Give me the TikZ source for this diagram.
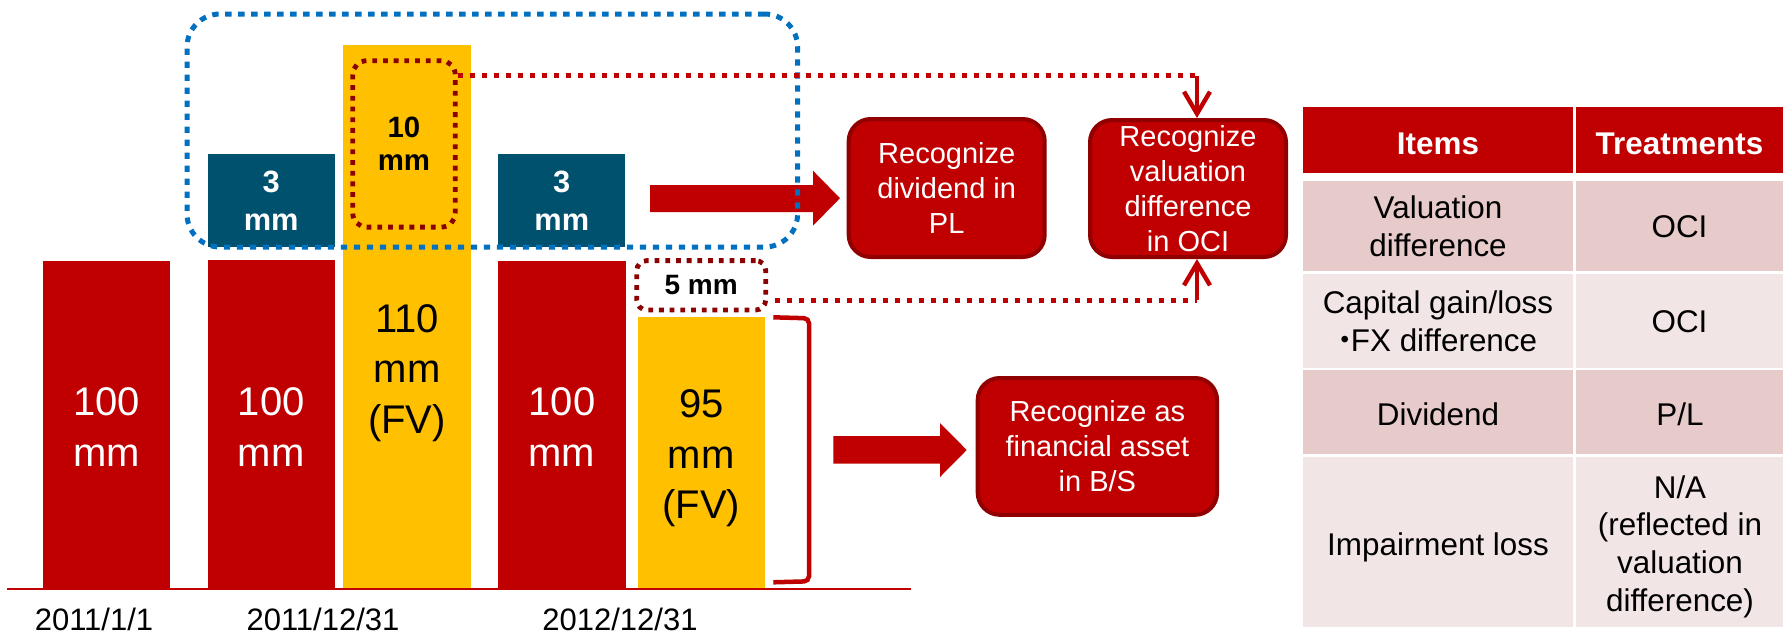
\documentclass[tikz,border=0pt]{standalone}
\usepackage{fontspec}
\setmainfont{Liberation Sans}
\newfontfamily\cjkfont{Noto Sans CJK JP}
\usetikzlibrary{arrows.meta}
\definecolor{barred}{RGB}{192,0,0}
\definecolor{darkred}{RGB}{139,0,0}
\definecolor{boxedge}{RGB}{144,0,0}
\definecolor{gold}{RGB}{255,192,0}
\definecolor{petrol}{RGB}{0,81,110}
\definecolor{hiblue}{RGB}{0,112,192}
\definecolor{rowa}{RGB}{231,202,202}
\definecolor{rowb}{RGB}{242,229,229}
\begin{document}
\begin{tikzpicture}[x=0.5pt,y=-0.5pt,
  bartext/.style={inner sep=0pt, align=center, font=\fontsize{20}{25.3}\selectfont},
  mmbox/.style={fill=petrol, text=white, inner sep=0pt, align=center,
    minimum width=63.6pt, minimum height=46.5pt,
    font=\bfseries\fontsize{15.4}{19.2}\selectfont},
  dotbox/.style={draw=darkred, line width=2.4pt, dash pattern=on 2.4pt off 2.95pt,
    inner sep=0pt, align=center},
  hibox/.style={draw=hiblue, line width=2.5pt, dash pattern=on 3.2pt off 3.3pt,
    rounded corners=16.5pt, inner sep=0pt},
  stepbox/.style={fill=barred, draw=boxedge, line width=2pt, rounded corners=11pt,
    text=white, inner sep=0pt, align=center,
    font=\fontsize{14.5}{17.5}\selectfont},
  link/.style={draw=barred, line width=2.5pt, dash pattern=on 2.5pt off 3.5pt},
  linkhead/.style={draw=barred, line width=2.2pt,
    -{Straight Barb[length=11pt,width=13pt]}},
  tabtxt/.style={inner sep=0pt, align=center, font=\fontsize{15.7}{18.8}\selectfont},
  datetxt/.style={inner sep=0pt, anchor=base, font=\fontsize{15.5}{18}\selectfont}]

\useasboundingbox (0,0) rectangle (1790,634);
\fill[white] (0,0) rectangle (1790,634);

% bars of the three dates
\fill[barred] (43,261) rectangle (170,589);
\fill[barred] (207.6,260) rectangle (334.7,589);
\fill[gold] (342.7,45) rectangle (471,589);
\fill[barred] (498,261) rectangle (625.7,589);
\fill[gold] (637.7,316.7) rectangle (765,589);

\node[bartext, text=white] (v1) at (106.5,427) {100\\mm};
\node[bartext, text=white] (v2) at (271.2,427) {100\\mm};
\node[bartext] (v3) at (407,373) {110\\mm\\(FV)};
\node[bartext, text=white] (v4) at (561.9,427) {100\\mm};
\node[bartext] (v5) at (701.3,458.3) {95\\mm\\(FV)};

% dividends
\node[mmbox] (d1) at (271.2,200.5) {3\\mm};
\node[mmbox] (d2) at (561.8,200.5) {3\\mm};

% valuation differences
\node[dotbox, rounded corners=7pt, minimum width=51.3pt, minimum height=83.2pt,
  font=\bfseries\fontsize{14.7}{16.7}\selectfont] (ten) at (404,143.9) {10\\mm};
\node[dotbox, rounded corners=5pt, minimum width=64.5pt, minimum height=24.7pt,
  font=\bfseries\fontsize{14}{16}\selectfont] (five) at (701.2,285.3) {5 mm};

% block arrows
\fill[barred] (650,185) -- (813,185) -- (813,170.7) -- (840,198.2)
  -- (813,225.7) -- (813,212) -- (650,212) -- cycle;
\fill[barred] (833.3,436) -- (940,436) -- (940,423) -- (966.7,450)
  -- (940,477) -- (940,463.5) -- (833.3,463.5) -- cycle;

% group of the dividend items
\node[hibox, minimum width=305.3pt, minimum height=116.5pt] (grp) at (492.3,130.5) {};

% treatment boxes
\node[stepbox, minimum width=98pt, minimum height=69pt] (pl) at (946.7,188)
  {Recognize\\dividend in\\PL};
\node[stepbox, minimum width=98pt, minimum height=68.5pt] (oci) at (1188,188.5)
  {Recognize\\valuation\\difference\\in OCI};
\node[stepbox, minimum width=119.7pt, minimum height=68.4pt] (bs) at (1097.4,446.4)
  {Recognize as\\financial asset\\in B/S};

% dotted links into the OCI box
\coordinate (c1) at (1197,75.5);
\coordinate (c2) at (1197,300);
\draw[link] (ten.east |- c1) -- (c1);
\draw[linkhead] (c1) -- (c1 |- oci.north);
\draw[link, shorten <=3.5pt] (five.east |- c2) -- (c2);
\draw[linkhead] (c2) -- (c2 |- oci.south);

% bracket and time axis
\draw[barred, line width=2.25pt, rounded corners=2.5pt]
  (773.3,317.3) -- (809,318.3) -- (809,581.3) -- (773.3,582.3);
\draw[barred, line width=1.15pt] (7,589.3) -- (910.7,589.3);

\node[datetxt] (t1) at (94,630) {2011/1/1};
\node[datetxt] (t2) at (323,630) {2011/12/31};
\node[datetxt] (t3) at (620,630) {2012/12/31};

% treatment table
\fill[barred] (1303,107.3) rectangle (1572.7,172.6);
\fill[barred] (1575.7,107.3) rectangle (1783,172.6);
\fill[rowa] (1303,181) rectangle (1572.7,271);
\fill[rowa] (1575.7,181) rectangle (1783,271);
\fill[rowb] (1303,274) rectangle (1572.7,367.6);
\fill[rowb] (1575.7,274) rectangle (1783,367.6);
\fill[rowa] (1303,370) rectangle (1572.7,454);
\fill[rowa] (1575.7,370) rectangle (1783,454);
\fill[rowb] (1303,457) rectangle (1572.7,627);
\fill[rowb] (1575.7,457) rectangle (1783,627);

\node[tabtxt, anchor=base, text=white, font=\bfseries\fontsize{15.7}{18.8}\selectfont]
  (h1) at (1438,154.2) {Items};
\node[tabtxt, anchor=base, text=white, font=\bfseries\fontsize{15.7}{18.8}\selectfont]
  (h2) at (1679.5,154.2) {Treatments};
\node[tabtxt] (r1a) at (1438,226) {Valuation\\difference};
\node[tabtxt, anchor=base] (r1b) at (1679.5,237.5) {OCI};
\node[tabtxt] (r2a) at (1438,321)
  {Capital gain/loss\\\makebox[6pt]{\cjkfont ・}FX difference};
\node[tabtxt, anchor=base] (r2b) at (1679.5,332.9) {OCI};
\node[tabtxt, anchor=base] (r3a) at (1438,425.9) {Dividend};
\node[tabtxt, anchor=base] (r3b) at (1680,425.9) {P/L};
\node[tabtxt, anchor=base] (r4a) at (1438,555) {Impairment loss};
\node[tabtxt] (r4b) at (1680,546.6) {N/A\\(reflected in\\valuation\\difference)};
\end{tikzpicture}
\end{document}
